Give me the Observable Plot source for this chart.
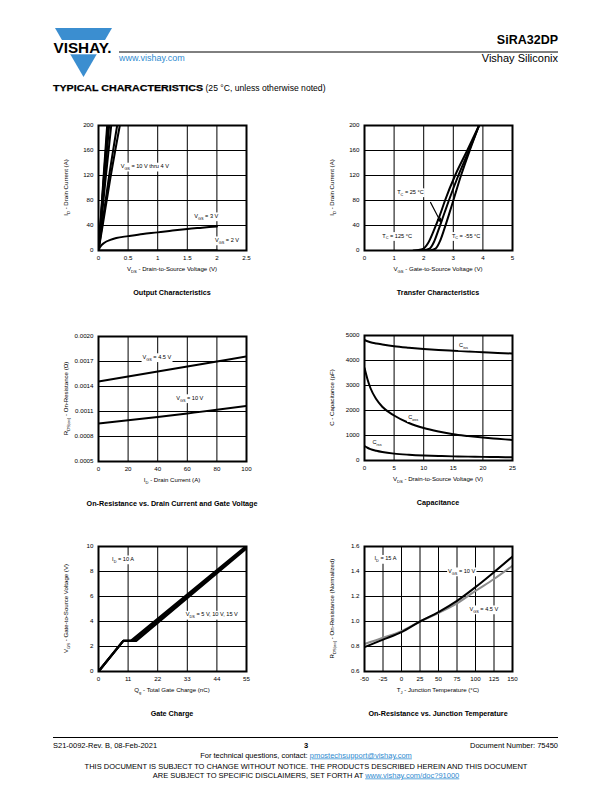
<!DOCTYPE html>
<html><head><meta charset="utf-8">
<script src="https://cdn.jsdelivr.net/npm/d3@7"></script>
<script src="https://cdn.jsdelivr.net/npm/@observablehq/plot@0.6"></script>
<style>
body{margin:0;background:#fff;}
#page{position:relative;width:612px;height:792px;overflow:hidden;background:#fff;}
</style></head><body><div id="page"></div>
<script>
// ---------- DATA ----------
// Output characteristics
const outIdPts = [0, 40, 110, 200];
const outVds10 = [0, 0.030, 0.080, 0.146];
const outVds9  = [0, 0.032, 0.085, 0.155];
const outVds8  = [0, 0.034, 0.090, 0.165];
const outVds7  = [0, 0.037, 0.098, 0.180];
const outVds6  = [0, 0.042, 0.115, 0.215];
const outVds5  = [0, 0.060, 0.165, 0.315];
const outVds4  = [0, 0.070, 0.190, 0.360];
const outVds3 = [0, 0.03, 0.1, 0.2, 0.3, 0.5, 0.75, 1, 1.25, 1.5, 1.75, 2];
const outId3  = [0, 6, 12.5, 17, 20, 23, 26.5, 29, 32, 34.5, 36.5, 38.5];
const outVds2 = [0, 2];
const outId2  = [0, 0.4];
const outXTicks = [0, 0.5, 1, 1.5, 2, 2.5];
const outYTicks = [0, 40, 80, 120, 160, 200];
// Transfer characteristics
const trVgs125 = [1.65, 1.95, 2.15, 2.35, 2.55, 2.72, 3.06, 3.47, 3.87];
const trId125  = [0, 2, 12, 33, 57, 80, 120, 160, 200];
const trVgs25  = [1.95, 2.2, 2.35, 2.5, 2.7, 2.85, 3.17, 3.53, 3.87];
const trId25   = [0, 3, 14, 33, 60, 80, 120, 160, 200];
const trVgsM55 = [2.2, 2.4, 2.55, 2.7, 2.85, 3.0, 3.26, 3.57, 3.87];
const trIdM55  = [0, 3, 15, 35, 57, 80, 120, 162, 200];
const trArrow = [{x1: 2.23, y1: 77, x2: 2.57, y2: 46}];
const trXTicks = [0, 1, 2, 3, 4, 5];
const trYTicks = [0, 40, 80, 120, 160, 200];
// On-resistance vs drain current
const rdsId  = [0, 20, 40, 60, 80, 100];
const rds45  = [0.00146, 0.00152, 0.00158, 0.00164, 0.00170, 0.00176];
const rds10  = [0.000957, 0.000995, 0.001035, 0.001077, 0.00112, 0.001166];
const rdsXTicks = [0, 20, 40, 60, 80, 100];
const rdsYTicks = [0.0005, 0.0008, 0.0011, 0.0014, 0.0017, 0.0020];
// Capacitance
const capVds = [0, 0.5, 1, 2, 3, 5, 7.5, 10, 12.5, 15, 17.5, 20, 22.5, 25];
const capCiss = [4820, 4770, 4730, 4680, 4640, 4570, 4510, 4460, 4420, 4390, 4360, 4330, 4300, 4280];
const capCoss = [3700, 3250, 2900, 2450, 2150, 1800, 1500, 1300, 1160, 1050, 980, 920, 870, 820];
const capCrss = [580, 510, 455, 390, 340, 275, 230, 200, 180, 165, 155, 145, 138, 130];
const capXTicks = [0, 5, 10, 15, 20, 25];
const capYTicks = [0, 1000, 2000, 3000, 4000, 5000];
// Gate charge
const gcQ5  = [0, 9.2, 12, 55];
const gcV5  = [0, 2.45, 2.45, 10.05];
const gcQ10 = [0, 9.2, 13, 55];
const gcV10 = [0, 2.45, 2.45, 9.95];
const gcQ15 = [0, 9.2, 14, 55];
const gcV15 = [0, 2.45, 2.45, 9.85];
const gcXTicks = [0, 11, 22, 33, 44, 55];
const gcYTicks = [0, 2, 4, 6, 8, 10];
// On-resistance vs junction temperature
const tjT   = [-50, -25, 0, 25, 50, 75, 100, 125, 150];
const rn10  = [0.795, 0.855, 0.915, 1.0, 1.075, 1.165, 1.275, 1.395, 1.52];
const rn45  = [0.82, 0.87, 0.923, 1.0, 1.068, 1.145, 1.245, 1.34, 1.447];
const tjXTicks = [-50, -25, 0, 25, 50, 75, 100, 125, 150];
const tjYTicks = [0.6, 0.8, 1.0, 1.2, 1.4, 1.6];

// ---------- HELPERS ----------
const FONT = '"Liberation Sans", Arial, Helvetica, sans-serif';
const NS = "http://www.w3.org/2000/svg";
const page = document.getElementById("page");
const rows = (xs, ys) => xs.map((x, i) => ({x, y: ys[i]}));

function addText(svg, px, py, segs, o = {}) {
  const fs = o.size || 6;
  const g = document.createElementNS(NS, "g");
  g.setAttribute("transform", `translate(${px},${py})` + (o.rotate ? ` rotate(${o.rotate})` : "") + ` translate(0,${fs * 0.35})`);
  const t = document.createElementNS(NS, "text");
  t.setAttribute("text-anchor", o.anchor || "middle");
  t.setAttribute("font-size", fs);
  t.setAttribute("font-family", FONT);
  t.setAttribute("fill", o.fill || "#000");
  if (o.bold) t.setAttribute("font-weight", "bold");
  let shift = 0;
  for (const s of segs) {
    const [str, sub] = typeof s === "string" ? [s, false] : s;
    const ts = document.createElementNS(NS, "tspan");
    const target = sub ? fs * 0.32 : 0;
    ts.setAttribute("dy", target - shift);
    shift = target;
    if (sub) ts.setAttribute("font-size", fs * 0.68);
    ts.textContent = str;
    t.appendChild(ts);
  }
  g.appendChild(t);
  svg.appendChild(g);
  if (o.bg) {
    const b = t.getBBox();
    const r = document.createElementNS(NS, "rect");
    r.setAttribute("x", b.x - 1); r.setAttribute("y", b.y - 0.5);
    r.setAttribute("width", b.width + 2); r.setAttribute("height", b.height + 1);
    r.setAttribute("fill", "#fff");
    g.insertBefore(r, t);
  }
}

const FW = 148, FH = 125, ML = 45, MT = 10, MR = 30, MB = 50;
function chart(c) {
  const p = Plot.plot({
    width: ML + FW + MR, height: MT + FH + MB,
    marginLeft: ML, marginTop: MT, marginRight: MR, marginBottom: MB,
    style: {fontFamily: FONT, fontSize: "6.2px", overflow: "visible", background: "transparent"},
    x: {domain: c.xDomain, label: null},
    y: {domain: c.yDomain, label: null},
    marks: [
      Plot.gridX(c.xTicks, {stroke: "#000", strokeOpacity: 1, strokeWidth: 1}),
      Plot.gridY(c.yTicks, {stroke: "#000", strokeOpacity: 1, strokeWidth: 1}),
      ...c.marks,
      Plot.frame({stroke: "#000", strokeWidth: 2}),
      Plot.axisX(c.xTicks, {tickSize: 0, tickPadding: 5, tickFormat: c.xFmt || (d => String(d)), label: null, fill: "#000"}),
      Plot.axisY(c.yTicks, {tickSize: 0, tickPadding: 5, tickFormat: c.yFmt || (d => String(d)), label: null, fill: "#000"})
    ]
  });
  p.style.position = "absolute";
  p.style.left = (c.left - ML) + "px";
  p.style.top = (c.top - MT) + "px";
  page.appendChild(p);
  addText(p, ML + FW / 2, MT + FH + 19, c.xLabel, {size: 6.1});
  addText(p, ML - 32, MT + FH / 2, c.yLabel, {size: 6.1, rotate: -90});
  addText(p, ML + FW / 2, MT + FH + 42, [c.title], {size: 7.2, bold: true});
  const sx = p.scale("x"), sy = p.scale("y");
  for (const n of (c.notes || [])) {
    addText(p, sx.apply(n[0]), sy.apply(n[1]), n[2], {size: 5.6, bg: true});
  }
  return p;
}
const line = (xs, ys, o = {}) => Plot.line(rows(xs, ys), {x: "x", y: "y", stroke: "#000", strokeWidth: 2, curve: "monotone-x", clip: true, ...o});

// ---------- PAGE FURNITURE ----------
const bg = document.createElementNS(NS, "svg");
bg.setAttribute("width", 612); bg.setAttribute("height", 792);
bg.style.position = "absolute"; bg.style.left = "0"; bg.style.top = "0";
bg.innerHTML = `
 <polygon points="55,28 112,28 83.5,77" fill="#3b8ed0"/>
 <rect x="50" y="40" width="66" height="14.3" fill="#fff"/>
 <text x="53.5" y="53" font-family='${FONT}' font-weight="bold" font-size="15.5" textLength="58" lengthAdjust="spacingAndGlyphs">VISHAY.</text>
 <line x1="119" x2="558" y1="52" y2="52" stroke="#000" stroke-width="1"/>
 <text x="119" y="61" font-family='${FONT}' font-size="9" fill="#2f8bd0">www.vishay.com</text>
 <text x="558" y="44" text-anchor="end" font-family='${FONT}' font-weight="bold" font-size="12.5">SiRA32DP</text>
 <text x="558" y="62" text-anchor="end" font-family='${FONT}' font-size="11">Vishay Siliconix</text>
 <text x="53" y="90.5" font-family='${FONT}' font-weight="bold" font-size="9.6" textLength="150" lengthAdjust="spacingAndGlyphs" stroke="#000" stroke-width="0.25">TYPICAL CHARACTERISTICS</text>
 <text x="205.5" y="90.5" font-family='${FONT}' font-size="8.6">(25 °C, unless otherwise noted)</text>
 <line x1="53" x2="558" y1="737.5" y2="737.5" stroke="#000" stroke-width="1"/>
 <text x="53" y="747.5" font-family='${FONT}' font-size="7.5">S21-0092-Rev. B, 08-Feb-2021</text>
 <text x="306" y="748" text-anchor="middle" font-family='${FONT}' font-weight="bold" font-size="7.5">3</text>
 <text x="558" y="747.5" text-anchor="end" font-family='${FONT}' font-size="7.5">Document Number: 75450</text>
 <text x="306" y="757.5" text-anchor="middle" font-family='${FONT}' font-size="7.5">For technical questions, contact: <tspan fill="#2f8bd0" text-decoration="underline">pmostechsupport@vishay.com</tspan></text>
 <text x="306" y="768.5" text-anchor="middle" font-family='${FONT}' font-size="7.5">THIS DOCUMENT IS SUBJECT TO CHANGE WITHOUT NOTICE. THE PRODUCTS DESCRIBED HEREIN AND THIS DOCUMENT</text>
 <text x="306" y="777.5" text-anchor="middle" font-family='${FONT}' font-size="7.5">ARE SUBJECT TO SPECIFIC DISCLAIMERS, SET FORTH AT <tspan fill="#2f8bd0" text-decoration="underline">www.vishay.com/doc?91000</tspan></text>
`;
page.appendChild(bg);

// ---------- CHARTS ----------
chart({
  left: 98, top: 125, xDomain: [0, 2.5], yDomain: [0, 200], xTicks: outXTicks, yTicks: outYTicks,
  marks: [
    ...[outVds10, outVds9, outVds8, outVds7, outVds6, outVds5, outVds4].map(v => line(v, outIdPts)),
    line(outVds3, outId3), line(outVds2, outId2)
  ],
  xLabel: ["V", ["DS", 1], " - Drain-to-Source Voltage (V)"],
  yLabel: ["I", ["D", 1], " - Drain Current (A)"],
  title: "Output Characteristics",
  notes: [
    [0.79, 134, ["V", ["GS", 1], " = 10 V thru 4 V"]],
    [1.83, 54.5, ["V", ["GS", 1], " = 3 V"]],
    [2.18, 16, ["V", ["GS", 1], " = 2 V"]]
  ]
});

chart({
  left: 364, top: 125, xDomain: [0, 5], yDomain: [0, 200], xTicks: trXTicks, yTicks: trYTicks,
  marks: [
    line(trVgs125, trId125), line(trVgs25, trId25), line(trVgsM55, trIdM55),
    Plot.arrow(trArrow, {x1: "x1", y1: "y1", x2: "x2", y2: "y2", stroke: "#000", strokeWidth: 1.1, headLength: 5, headAngle: 50})
  ],
  xLabel: ["V", ["GS", 1], " - Gate-to-Source Voltage (V)"],
  yLabel: ["I", ["D", 1], " - Drain Current (A)"],
  title: "Transfer Characteristics",
  notes: [
    [1.57, 93, ["T", ["C", 1], " = 25 °C"]],
    [1.12, 23, ["T", ["C", 1], " = 125 °C"]],
    [3.45, 23, ["T", ["C", 1], " = -55 °C"]]
  ]
});

chart({
  left: 98, top: 336, xDomain: [0, 100], yDomain: [0.0005, 0.0020], xTicks: rdsXTicks, yTicks: rdsYTicks,
  yFmt: d3.format(".4f"),
  marks: [line(rdsId, rds45), line(rdsId, rds10)],
  xLabel: ["I", ["D", 1], " - Drain Current (A)"],
  yLabel: ["R", ["DS(on)", 1], " - On-Resistance (Ω)"],
  title: "On-Resistance vs. Drain Current and Gate Voltage",
  notes: [
    [39.8, 0.00175, ["V", ["GS", 1], " = 4.5 V"]],
    [62, 0.001258, ["V", ["GS", 1], " = 10 V"]]
  ]
});

chart({
  left: 364, top: 335, xDomain: [0, 25], yDomain: [0, 5000], xTicks: capXTicks, yTicks: capYTicks,
  marks: [line(capVds, capCiss), line(capVds, capCoss), line(capVds, capCrss)],
  xLabel: ["V", ["DS", 1], " - Drain-to-Source Voltage (V)"],
  yLabel: ["C - Capacitance (pF)"],
  title: "Capacitance",
  notes: [
    [16.8, 4600, ["C", ["iss", 1]]],
    [8.3, 1730, ["C", ["oss", 1]]],
    [2.2, 705, ["C", ["rss", 1]]]
  ]
});

chart({
  left: 98, top: 546, xDomain: [0, 55], yDomain: [0, 10], xTicks: gcXTicks, yTicks: gcYTicks,
  marks: [
    line(gcQ5, gcV5, {curve: "linear", strokeWidth: 2.2}), line(gcQ10, gcV10, {curve: "linear", strokeWidth: 2.2}), line(gcQ15, gcV15, {curve: "linear", strokeWidth: 2.2})
  ],
  xLabel: ["Q", ["g", 1], " - Total Gate Charge (nC)"],
  yLabel: ["V", ["GS", 1], " - Gate-to-Source Voltage (V)"],
  title: "Gate Charge",
  notes: [
    [9.3, 8.96, ["I", ["D", 1], " = 10 A"]],
    [42.3, 4.53, ["V", ["DS", 1], " = 5 V, 10 V, 15 V"]]
  ]
});

chart({
  left: 364, top: 546, xDomain: [-50, 150], yDomain: [0.6, 1.6], xTicks: tjXTicks, yTicks: tjYTicks,
  yFmt: d3.format(".1f"),
  marks: [line(tjT, rn45, {stroke: "#8c8c8c"}), line(tjT, rn10)],
  xLabel: ["T", ["J", 1], " - Junction Temperature (°C)"],
  yLabel: ["R", ["DS(on)", 1], " - On-Resistance (Normalized)"],
  title: "On-Resistance vs. Junction Temperature",
  notes: [
    [-21, 1.5, ["I", ["D", 1], " = 15 A"]],
    [82, 1.4, ["V", ["GS", 1], " = 10 V"]],
    [112, 1.096, ["V", ["GS", 1], " = 4.5 V"]]
  ]
});
</script></body></html>
